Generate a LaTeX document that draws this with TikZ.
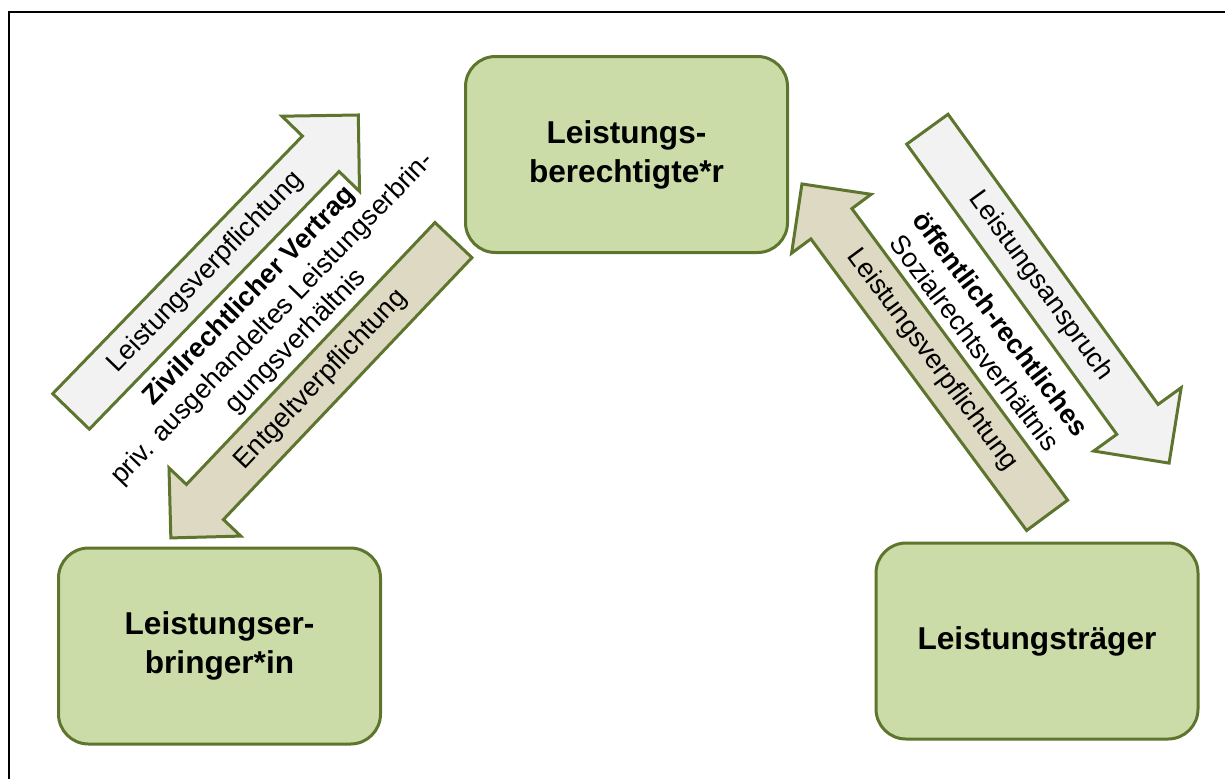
\documentclass[tikz,border=0pt]{standalone}
\usepackage{fontspec}
\setmainfont{Liberation Sans}
\usetikzlibrary{shapes.arrows}
\definecolor{boxfill}{RGB}{204,220,168}
\definecolor{boxline}{RGB}{94,117,46}
\definecolor{lightarrow}{RGB}{242,242,242}
\definecolor{darkarrow}{RGB}{221,217,195}
\tikzset{
  party/.style={draw=boxline, line width=1.5pt, fill=boxfill, rounded corners=15pt,
                minimum width=161pt, minimum height=98pt, align=center,
                font=\fontsize{15.8}{19.5}\selectfont\bfseries},
  relarrow/.style={single arrow, draw=boxline, line width=1.5pt, anchor=tail,
                   single arrow tip angle=90, single arrow head indent=0pt,
                   inner xsep=0pt, inner ysep=6pt, text height=9.5pt, text depth=2.5pt,
                   font=\fontsize{13.5}{16}\selectfont},
  duty/.style={relarrow, fill=lightarrow, single arrow head extend=14.25pt},
  counterduty/.style={relarrow, fill=darkarrow, single arrow head extend=12pt},
  reltext/.style={align=center, font=\fontsize{13.5}{16.2}\selectfont}
}

\begin{document}
\begin{tikzpicture}[x=0.5pt, y=-0.5pt]
  \useasboundingbox (0,0) rectangle (1225,778);
  \clip (0,0) rectangle (1225,778);
  \draw[line width=1.1pt] (9,12) rectangle (1240,795);

  % the three parties
  \node[party] (berechtigt) at (626.5,154.5) {Leistungs-\\berechtigte*r};
  \node[party] (erbringer) at (219.5,646) {Leistungser-\\bringer*in};
  \node[party] (traeger) at (1037,641) {Leistungsträger};

  % left side: private contract
  \node[duty, rotate=45.9, minimum height=206.4pt] (lvlinks) at (70,412.5)
    {Leistungsverpflichtung};
  \node[counterduty, rotate=46.5, shape border rotate=180, minimum height=205.3pt]
    (entgelt) at (454.5,239) {Entgeltverpflichtung};
  \node[reltext, rotate=46] (vertrag) at (273,319)
    {\textbf{Zivilrechtlicher Vertrag}\\priv. ausgehandeltes Leistungserbrin-\\gungsverhältnis};

  % right side: social law
  \node[duty, rotate=-54.1, minimum height=206.1pt] (anspruch) at (926.5,128)
    {Leistungsanspruch};
  \node[counterduty, rotate=-53.5, shape border rotate=180, minimum height=206.1pt]
    (lvrechts) at (1048,516.5) {Leistungsverpflichtung};
  \node[reltext, rotate=-53] (sozial) at (988,333)
    {\textbf{öffentlich-rechtliches}\\Sozialrechtsverhältnis};
\end{tikzpicture}
\end{document}
